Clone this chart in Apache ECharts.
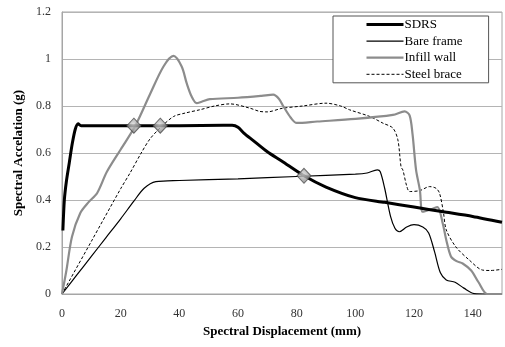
<!DOCTYPE html>
<html>
<head>
<meta charset="utf-8">
<script src="https://cdn.jsdelivr.net/npm/echarts@6/dist/echarts.min.js"></script>
<style>
  html, body { margin: 0; padding: 0; background: #fff; }
  #chart { width: 505px; height: 347px; }
</style>
</head>
<body>
<div id="chart"></div>
<script>
// Capacity-spectrum curves: displacement (mm) vs. acceleration (g)
const sdrsX = [0.3, 0.8, 1.5, 2.5, 3.5, 4.5, 5.5, 6.5, 20, 40, 55, 58, 60, 62, 65, 70, 75, 82.5, 90, 100, 110, 120, 130, 140, 150];
const sdrsY = [0.27, 0.4, 0.48, 0.56, 0.64, 0.70, 0.724, 0.716, 0.716, 0.716, 0.718, 0.718, 0.71, 0.685, 0.655, 0.605, 0.565, 0.503, 0.455, 0.41, 0.39, 0.37, 0.35, 0.33, 0.305];

const bareX = [0, 5, 10, 15, 20, 24.5, 28, 32, 40, 60, 80, 100, 104, 107.5, 108.5, 110, 112, 113.5, 115, 117.5, 120, 123, 125, 127, 129, 131, 134, 137, 140.5, 145, 150];
const bareY = [0, 0.08, 0.16, 0.24, 0.32, 0.395, 0.45, 0.478, 0.483, 0.49, 0.5, 0.51, 0.515, 0.528, 0.52, 0.45, 0.33, 0.28, 0.265, 0.285, 0.295, 0.285, 0.26, 0.18, 0.09, 0.06, 0.05, 0.025, 0.002, 0, 0];

const infillX = [0, 1.5, 3.4, 6.2, 9, 12, 15.3, 20, 25, 30, 34.6, 38, 40.8, 42.5, 44.2, 45.9, 47.6, 50.4, 60, 68, 72, 74, 75.5, 78, 80, 87, 100, 112.8, 116.8, 118.5, 119.5, 120.7, 122, 123, 125.8, 128, 129.8, 131, 132.6, 134.5, 136.6, 139.5, 142, 145, 150];
const infillY = [0, 0.1, 0.244, 0.344, 0.39, 0.43, 0.52, 0.615, 0.716, 0.85, 0.968, 1.013, 0.968, 0.897, 0.84, 0.812, 0.818, 0.829, 0.835, 0.843, 0.848, 0.83, 0.798, 0.75, 0.728, 0.734, 0.745, 0.762, 0.777, 0.76, 0.68, 0.528, 0.443, 0.35, 0.36, 0.37, 0.30, 0.23, 0.16, 0.14, 0.13, 0.10, 0.05, 0, 0];

const braceX = [0, 10, 20, 23.2, 27, 30, 33.4, 38, 42, 47, 52, 57.2, 64, 67.4, 70, 75, 82, 90, 95, 98, 105, 109.4, 112.8, 114.5, 115.6, 116.2, 117.5, 118.5, 122, 125.3, 127.5, 128.7, 130, 131, 134.3, 138.8, 143.3, 146, 150];
const braceY = [0, 0.224, 0.448, 0.515, 0.6, 0.66, 0.706, 0.755, 0.77, 0.784, 0.8, 0.809, 0.791, 0.777, 0.775, 0.79, 0.8, 0.812, 0.8, 0.784, 0.755, 0.727, 0.706, 0.656, 0.54, 0.528, 0.46, 0.436, 0.44, 0.457, 0.45, 0.429, 0.35, 0.273, 0.2, 0.145, 0.102, 0.1, 0.105];

// Performance points (diamonds)
const perfX = [24.5, 33.5, 82.5];
const perfY = [0.716, 0.716, 0.503];

const seriesNames = ['SDRS', 'Bare frame', 'Infill wall', 'Steel brace'];
const xTicks = { min: 0, max: 150, interval: 20 };
const yTicks = { min: 0, max: 1.2, interval: 0.2 };

// Line styles shared by each series and its legend entry
const styles = [
  { color: '#000', width: 3 },
  { color: '#000', width: 1.2 },
  { color: '#8c8c8c', width: 2.2 },
  { color: '#000', width: 1, type: [3, 2] }
];
const smoothing = [0.25, 0.3, 0.3, 0.3];
const zOrder = [5, 3, 4, 3];
const xs = [sdrsX, bareX, infillX, braceX];
const ys = [sdrsY, bareY, infillY, braceY];

const zip = (a, b) => a.map((x, i) => [x, b[i]]);
const serif = '"Liberation Serif", "Times New Roman", serif';

const chart = echarts.init(document.getElementById('chart'), null, { renderer: 'canvas' });
chart.setOption({
  animation: false,
  backgroundColor: '#fff',
  grid: {
    left: 62, right: 2, top: 12, bottom: 53,
    show: true, borderColor: '#a6a6a6', borderWidth: 1
  },
  legend: {
    data: seriesNames.map((n, i) => ({ name: n, lineStyle: styles[i] })),
    orient: 'vertical',
    left: 333, top: 16,
    itemWidth: 37, itemHeight: 13, itemGap: 3.6,
    padding: [2, 26, 2, 32],
    borderColor: '#555', borderWidth: 1,
    backgroundColor: '#fff',
    itemStyle: { opacity: 0 },
    textStyle: { fontFamily: serif, fontSize: 13, color: '#000', padding: [0, 0, 0, -4] }
  },
  xAxis: {
    type: 'value',
    min: xTicks.min, max: xTicks.max, interval: xTicks.interval,
    name: 'Spectral Displacement (mm)',
    nameLocation: 'middle', nameGap: 31,
    nameTextStyle: { fontFamily: serif, fontSize: 13, fontWeight: 'bold', color: '#000' },
    axisLine: { lineStyle: { color: '#a6a6a6' } },
    axisTick: { show: false },
    splitLine: { show: false },
    axisLabel: { fontFamily: serif, fontSize: 12, color: '#333', margin: 14,
      formatter: v => (v > 140 ? '' : String(v)) }
  },
  yAxis: {
    type: 'value',
    min: yTicks.min, max: yTicks.max, interval: yTicks.interval,
    name: 'Spectral Accelation (g)',
    nameLocation: 'middle', nameGap: 34,
    nameTextStyle: { fontFamily: serif, fontSize: 13, fontWeight: 'bold', color: '#000' },
    axisLine: { show: true, lineStyle: { color: '#a6a6a6' } },
    axisTick: { show: false },
    splitLine: { lineStyle: { color: '#b4b4b4' } },
    axisLabel: { fontFamily: serif, fontSize: 12, color: '#333', margin: 11,
      formatter: v => String(+v.toFixed(1)) }
  },
  series: seriesNames.map((n, i) => ({
    name: n, type: 'line', data: zip(xs[i], ys[i]), symbol: 'none',
    smooth: smoothing[i], lineStyle: styles[i],
    itemStyle: { color: styles[i].color }, z: zOrder[i]
  })).concat([{
    name: 'Performance point', type: 'scatter', data: zip(perfX, perfY),
    symbol: 'diamond', symbolSize: [14, 15], z: 10,
    itemStyle: {
      color: new echarts.graphic.RadialGradient(0.45, 0.4, 0.7, [
        { offset: 0, color: '#d9d9d9' },
        { offset: 0.6, color: '#9a9a9a' },
        { offset: 1, color: '#666' }
      ]),
      borderColor: '#4d4d4d', borderWidth: 1
    }
  }])
});
</script>
</body>
</html>
